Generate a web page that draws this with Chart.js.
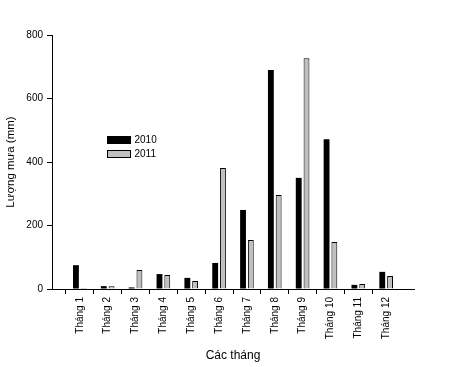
<!DOCTYPE html>
<html>
<head>
<meta charset="utf-8">
<script src="https://cdn.jsdelivr.net/npm/chart.js@4"></script>
<style>
  html, body { margin: 0; padding: 0; background: #fff; }
  #wrap { width: 449px; height: 367px; }
</style>
</head>
<body>
<div id="wrap"><canvas id="rainChart" width="449" height="367"></canvas></div>
<script>
// monthly rainfall (mm)
const months = ['Tháng 1', 'Tháng 2', 'Tháng 3', 'Tháng 4', 'Tháng 5', 'Tháng 6',
                'Tháng 7', 'Tháng 8', 'Tháng 9', 'Tháng 10', 'Tháng 11', 'Tháng 12'];
const rain2010 = [75, 9, 5, 47, 35, 82, 249, 690, 350, 472, 13, 54];
const rain2011 = [3, 9, 60, 44, 25, 381, 154, 296, 727, 148, 16, 41];
const yTicks = [0, 200, 400, 600, 800];

// blank slot on each end so the bars sit one step in from the axes
const labels = [''].concat(months, ['']);
const pad = arr => [null].concat(arr, [null]);

const FONT = 'Arial, "Liberation Sans", sans-serif';

// legend drawn inside the plot, like the original
const innerLegend = {
    id: 'innerLegend',
    afterDraw(chart) {
        const ctx = chart.ctx;
        const a = chart.chartArea;
        ctx.save();
        ctx.font = '10px ' + FONT;
        ctx.textBaseline = 'middle';
        chart.data.datasets.forEach(function(ds, i) {
            const x = a.left + 55.5;
            const y = a.top + 101.5 + i * 14;
            ctx.fillStyle = ds.backgroundColor;
            ctx.fillRect(x, y, 23, 7);
            ctx.strokeStyle = '#000';
            ctx.lineWidth = 1;
            ctx.strokeRect(x, y, 23, 7);
            ctx.fillStyle = '#000';
            ctx.fillText(ds.label, x + 27, y + 4);
        });
        ctx.restore();
    }
};

new Chart(document.getElementById('rainChart'), {
    type: 'bar',
    data: {
        labels: labels,
        datasets: [{
            label: '2010',
            data: pad(rain2010),
            backgroundColor: '#000000',
            borderColor: '#000000',
            borderWidth: 0,
            categoryPercentage: 0.56,
            barPercentage: 0.75
        }, {
            label: '2011',
            data: pad(rain2011),
            backgroundColor: '#c0c0c0',
            borderColor: '#000000',
            borderWidth: 1,
            categoryPercentage: 0.56,
            barPercentage: 0.75
        }]
    },
    options: {
        responsive: false,
        animation: false,
        layout: {
            padding: { top: 35, right: 35, left: 0, bottom: 0 }
        },
        plugins: {
            legend: { display: false },
            tooltip: { enabled: false }
        },
        scales: {
            x: {
                offset: false,
                afterFit: function(s) { s.height = 78; },
                border: { display: true, color: '#000', width: 1 },
                grid: {
                    display: true,
                    drawOnChartArea: false,
                    drawTicks: true,
                    tickLength: 5,
                    tickColor: function(c) {
                        return (c.index === 0 || c.index === labels.length - 1) ? 'rgba(0,0,0,0)' : '#000';
                    }
                },
                ticks: {
                    autoSkip: false,
                    minRotation: 90,
                    maxRotation: 90,
                    padding: 3,
                    color: '#000',
                    font: { family: FONT, size: 10 }
                },
                title: {
                    display: true,
                    text: 'Các tháng',
                    color: '#000',
                    padding: { top: 6, bottom: 4 },
                    font: { family: FONT, size: 12 }
                }
            },
            y: {
                min: 0,
                max: 800,
                afterFit: function(s) { s.width = 52; },
                afterBuildTicks: function(s) { s.ticks = yTicks.map(v => ({ value: v })); },
                border: { display: true, color: '#000', width: 1 },
                grid: {
                    display: true,
                    drawOnChartArea: false,
                    drawTicks: true,
                    tickLength: 5,
                    tickColor: '#000'
                },
                ticks: {
                    padding: 4,
                    color: '#000',
                    font: { family: FONT, size: 10 }
                },
                title: {
                    display: true,
                    text: 'Lượng mưa (mm)',
                    color: '#000',
                    padding: { top: 4, bottom: 4 },
                    font: { family: FONT, size: 11.5 }
                }
            }
        }
    },
    plugins: [innerLegend]
});
</script>
</body>
</html>
